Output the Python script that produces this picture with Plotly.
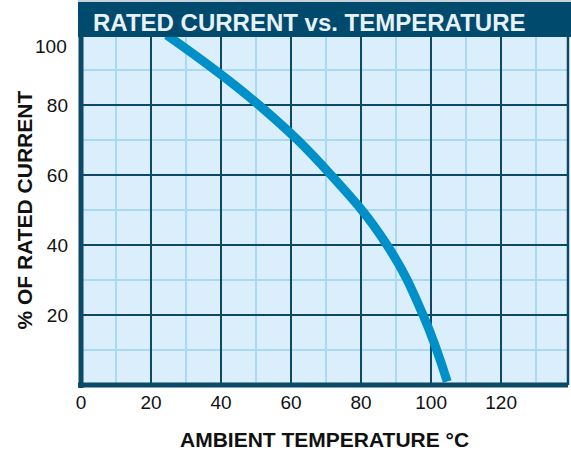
import plotly.graph_objects as go

# Data
temperature = [24.5, 50.8, 71.4, 87.4, 97.7, 104.6]
rated_pct = [100, 80, 60, 40, 20, 1]

x_ticks = [0, 20, 40, 60, 80, 100, 120]
y_ticks = [20, 40, 60, 80]

title_text = "RATED CURRENT vs. TEMPERATURE"
x_title = "AMBIENT TEMPERATURE °C"
y_title = "% OF RATED CURRENT"

NAVY = "#0b4966"
BAND = "#004b6d"
MINOR = "#a9d9f4"
BG = "#dbeefb"
CURVE = "#0090c9"
FONT = "Liberation Sans, Arial, sans-serif"

fig = go.Figure()
fig.add_trace(go.Scatter(
    x=temperature, y=rated_pct, mode="lines",
    line=dict(color=CURVE, width=9, shape="spline", smoothing=1.2),
    hoverinfo="skip", showlegend=False,
))

W, H = 571, 458
L, R, T, B = 81, 3, 35, 73
pw = W - L - R
ph = H - T - B


def px(xp):
    return (xp - L) / pw


def py(yp):
    return (H - B - yp) / ph


fig.update_layout(
    width=W, height=H,
    margin=dict(l=L, r=R, t=T, b=B, pad=0),
    paper_bgcolor="white",
    plot_bgcolor=BG,
    font=dict(family=FONT, size=19, color="#111111"),
    xaxis=dict(
        range=[0, 139.1], tickvals=x_ticks, showgrid=True,
        gridcolor=NAVY, gridwidth=2,
        minor=dict(dtick=10, tick0=0, showgrid=True, gridcolor=MINOR, gridwidth=1.5),
        showline=False, zeroline=False, ticks="", ticklabelstandoff=4,
        tickfont=dict(size=19, family=FONT, color="#111111"),
    ),
    yaxis=dict(
        range=[0, 100], tickvals=y_ticks, showgrid=True,
        gridcolor=NAVY, gridwidth=2,
        minor=dict(dtick=10, tick0=0, showgrid=True, gridcolor=MINOR, gridwidth=1.5),
        showline=False, zeroline=False, ticks="", ticklabelstandoff=12,
        tickfont=dict(size=19, family=FONT, color="#111111"),
    ),
)

# plot borders (centred on the plot edges)
fig.add_shape(type="line", xref="paper", yref="paper", x0=0, x1=0, y0=py(388), y1=1,
              line=dict(color=NAVY, width=5), layer="above")
fig.add_shape(type="line", xref="paper", yref="paper", x0=px(78), x1=1, y0=0, y1=0,
              line=dict(color=NAVY, width=5), layer="above")
fig.add_shape(type="line", xref="paper", yref="paper", x0=1, x1=1, y0=0, y1=1,
              line=dict(color=NAVY, width=2.5), layer="above")

# title band
fig.add_shape(type="rect", xref="paper", yref="paper",
              x0=px(78), x1=px(W + 2), y0=py(37), y1=py(1.8),
              fillcolor=BAND, line=dict(width=0), layer="above")
fig.add_shape(type="rect", xref="paper", yref="paper",
              x0=px(78), x1=px(W + 2), y0=py(1.8), y1=py(-1),
              fillcolor="#c9d2d9", line=dict(width=0), layer="above")

fig.add_annotation(text="<b>" + title_text + "</b>", xref="paper", yref="paper",
                   x=px(91), y=py(22), xanchor="left", yanchor="middle",
                   showarrow=False, font=dict(size=24, color="#e8f1f7", family=FONT))

# "100" tick label (sits just under the band in the reference)
fig.add_annotation(text="100", xref="paper", yref="paper",
                   x=px(69), y=py(46.5), xanchor="right", yanchor="middle",
                   showarrow=False, font=dict(size=19, color="#111111", family=FONT))

# axis titles
fig.add_annotation(text="<b>" + x_title + "</b>", xref="paper", yref="paper",
                   x=px(324.5), y=py(440), xanchor="center", yanchor="middle",
                   showarrow=False, font=dict(size=21, color="#111111", family=FONT))
fig.add_annotation(text="<b>" + y_title + "</b>", xref="paper", yref="paper",
                   x=px(23.5), y=py(210), xanchor="center", yanchor="middle",
                   textangle=-90,
                   showarrow=False, font=dict(size=21, color="#111111", family=FONT))

fig.write_html("out.html", config={"displayModeBar": False},
               post_script="document.body.style.margin='0';")
